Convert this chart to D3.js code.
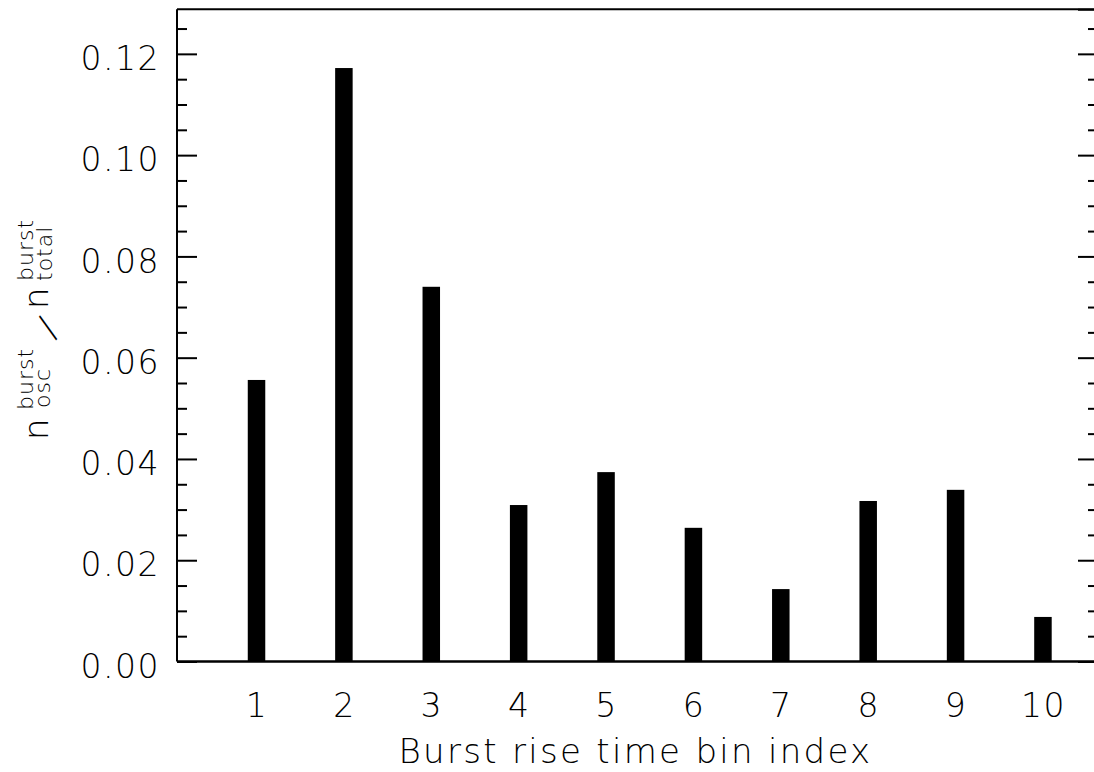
<!DOCTYPE html>
<html><head><meta charset="utf-8">
<script src="https://cdn.jsdelivr.net/npm/d3@7"></script>
<style>
html,body{margin:0;padding:0;background:#fff;overflow:hidden}
text{font-family:"DejaVu Sans","Liberation Sans",sans-serif;font-weight:200;fill:#000}
</style></head>
<body>
<script>
const binIndex = [1,2,3,4,5,6,7,8,9,10];
const fraction = [0.0556,0.1172,0.0740,0.0309,0.0374,0.0264,0.0143,0.0317,0.0339,0.0088];
const yTickValues = [0.00,0.02,0.04,0.06,0.08,0.10,0.12];
const yTickLabels = ["0.00","0.02","0.04","0.06","0.08","0.10","0.12"];
const xTickLabels = ["1","2","3","4","5","6","7","8","9","10"];
const xTitle = "Burst rise time bin index";

const W = 1094, H = 772;
const L = 177, R = 1098, T = 9.3, B = 661.5;

const svg = d3.select("body").append("svg").attr("width", W).attr("height", H);

const x = d3.scaleLinear().domain([0.09, 10.63]).range([L, R]);
const y = d3.scaleLinear().domain([0, 0.1288]).range([B, T]);

const barW = 17.5;
svg.append("g").selectAll("rect").data(binIndex).join("rect")
  .attr("x", d => x(d) - barW/2)
  .attr("width", barW)
  .attr("y", (d,i) => y(fraction[i]))
  .attr("height", (d,i) => y(0) - y(fraction[i]))
  .attr("fill", "#000");

const frame = svg.append("g").attr("stroke", "#000").attr("stroke-width", 2).attr("fill", "none");
frame.append("line").attr("x1", L).attr("x2", R).attr("y1", T).attr("y2", T);
frame.append("line").attr("x1", L).attr("x2", R).attr("y1", B).attr("y2", B).attr("stroke-width", 2.5);
frame.append("line").attr("x1", L).attr("x2", L).attr("y1", T).attr("y2", B);

const minor = d3.range(0, 0.1288, 0.005).filter(v => Math.abs(v/0.02 - Math.round(v/0.02)) > 1e-6);

const yLeft = d3.axisLeft(y).tickValues(yTickValues).tickFormat((d,i)=>yTickLabels[i]).tickSize(-20).tickPadding(17);
const gl = svg.append("g").attr("transform", `translate(${L},0)`).call(yLeft);
gl.select(".domain").remove();
gl.selectAll(".tick line").attr("stroke", "#000").attr("stroke-width", 2);
gl.selectAll(".tick text").attr("font-size", 33).attr("letter-spacing", 1.5)
  .attr("dy", "0.72em").attr("y", -8).attr("x", -17);

const yLeftMinor = d3.axisLeft(y).tickValues(minor).tickFormat("").tickSize(-10);
const glm = svg.append("g").attr("transform", `translate(${L},0)`).call(yLeftMinor);
glm.select(".domain").remove();
glm.selectAll(".tick line").attr("stroke", "#000").attr("stroke-width", 2);

const yRight = d3.axisRight(y).tickValues(yTickValues).tickFormat("").tickSize(-20);
const gr = svg.append("g").attr("transform", `translate(${R},0)`).call(yRight);
gr.select(".domain").attr("stroke", "#000").attr("stroke-width", 2);
gr.selectAll(".tick line").attr("stroke", "#000").attr("stroke-width", 2);
const yRightMinor = d3.axisRight(y).tickValues(minor).tickFormat("").tickSize(-10);
const grm = svg.append("g").attr("transform", `translate(${R},0)`).call(yRightMinor);
grm.select(".domain").remove();
grm.selectAll(".tick line").attr("stroke", "#000").attr("stroke-width", 2);

const xAxis = d3.axisBottom(x).tickValues(binIndex).tickFormat((d,i)=>xTickLabels[i]).tickSize(0).tickPadding(0);
const gx = svg.append("g").attr("transform", `translate(0,${B})`).call(xAxis);
gx.select(".domain").remove();
gx.selectAll(".tick text").attr("font-size", 33).attr("letter-spacing", 1.5).attr("dy", null).attr("y", 55);

svg.append("text").attr("x", (L + 1094)/2).attr("y", 763).attr("text-anchor", "middle")
  .attr("font-size", 34).attr("letter-spacing", 2.3).text(xTitle);

const yt = svg.append("g").attr("transform", "translate(48,440) rotate(-90)");
const big = 34, small = 22;
yt.append("text").attr("x", 0).attr("y", 0).attr("font-size", big).text("n");
yt.append("text").attr("x", 32).attr("y", 2).attr("font-size", small).attr("letter-spacing", 1).text("osc");
yt.append("text").attr("x", 30).attr("y", -15).attr("font-size", small).attr("letter-spacing", 1).text("burst");
yt.append("text").attr("transform", "translate(112.5,-0.5) rotate(37) translate(-5.7,11.5)").attr("font-size", big).text("/");
yt.append("text").attr("x", 131).attr("y", 0).attr("font-size", big).text("n");
yt.append("text").attr("x", 159).attr("y", 4).attr("font-size", small).attr("letter-spacing", 1).text("total");
yt.append("text").attr("x", 159).attr("y", -15).attr("font-size", small).attr("letter-spacing", 1).text("burst");
</script>
</body></html>
